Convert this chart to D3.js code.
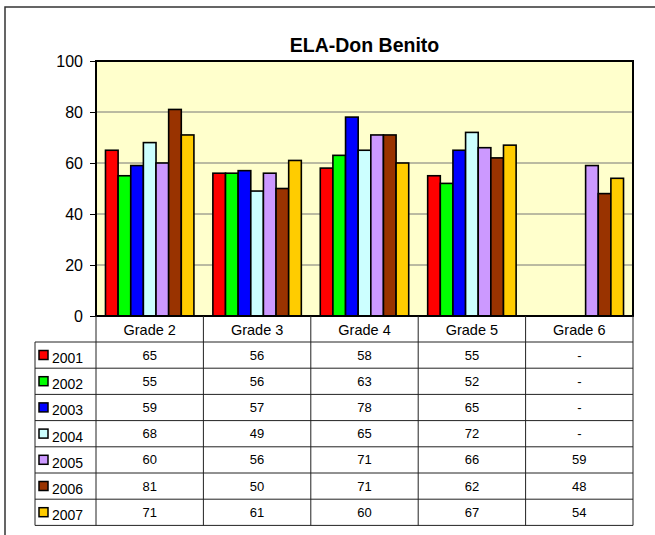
<!DOCTYPE html>
<html>
<head>
<meta charset="utf-8">
<script src="https://cdn.jsdelivr.net/npm/d3@7"></script>
<style>
  body { margin: 0; background: #fff; }
  svg { display: block; font-family: Arial, "Liberation Sans", sans-serif; }
</style>
</head>
<body>
<div id="chart"></div>
<script>
// Chart data
const grades = ['Grade 2', 'Grade 3', 'Grade 4', 'Grade 5', 'Grade 6'];
const years = ['2001', '2002', '2003', '2004', '2005', '2006', '2007'];
const yearColors = ['#ff0000', '#00ff00', '#0000ff', '#ccffff', '#cc99ff', '#993300', '#ffcc00'];
const yTicks = [0, 20, 40, 60, 80, 100];

// one array per year, values per grade (null = no data, shown as "-")
const s2001 = [65, 56, 58, 55, null];
const s2002 = [55, 56, 63, 52, null];
const s2003 = [59, 57, 78, 65, null];
const s2004 = [68, 49, 65, 72, null];
const s2005 = [60, 56, 71, 66, 59];
const s2006 = [81, 50, 71, 62, 48];
const s2007 = [71, 61, 60, 67, 54];
const series = [s2001, s2002, s2003, s2004, s2005, s2006, s2007];

const width = 655;
const height = 535;
const plot = { left: 96, right: 633, top: 61, bottom: 316 };
const tableLeft = 35;
const headerH = 26;
const rowH = 26.2;

const svg = d3.select('#chart')
  .append('svg')
  .attr('width', width)
  .attr('height', height);

// outer frame (runs off the right and bottom like the reference)
svg.append('path')
  .attr('d', `M5,${height + 2} V7 H${width + 2}`)
  .attr('fill', 'none')
  .attr('stroke', '#333')
  .attr('stroke-width', 1.5);

// title
svg.append('text')
  .attr('x', (plot.left + plot.right) / 2)
  .attr('y', 52)
  .attr('text-anchor', 'middle')
  .attr('font-size', 19.5)
  .attr('font-weight', 'bold')
  .text('ELA-Don Benito');

// scales
const x0 = d3.scaleBand()
  .domain(grades)
  .range([plot.left, plot.right]);

const x1 = d3.scaleBand()
  .domain(years)
  .range([0, x0.bandwidth()])
  .paddingInner(0)
  .paddingOuter(0.75);

const y = d3.scaleLinear()
  .domain([0, 100])
  .range([plot.bottom, plot.top]);

const color = d3.scaleOrdinal().domain(years).range(yearColors);

// plot background
svg.append('rect')
  .attr('x', plot.left)
  .attr('y', plot.top)
  .attr('width', plot.right - plot.left)
  .attr('height', plot.bottom - plot.top)
  .attr('fill', '#ffffcc');

// gridlines
svg.append('g')
  .selectAll('line')
  .data(yTicks.filter(d => d > 0 && d < 100))
  .join('line')
  .attr('x1', plot.left)
  .attr('x2', plot.right)
  .attr('y1', d => y(d))
  .attr('y2', d => y(d))
  .attr('stroke', '#777')
  .attr('stroke-width', 1);

// y axis
const yAxis = svg.append('g')
  .attr('transform', `translate(${plot.left},0)`)
  .call(d3.axisLeft(y).tickValues(yTicks).tickSize(6).tickPadding(7));
yAxis.select('.domain').remove();
yAxis.selectAll('.tick line').attr('stroke', '#000');
yAxis.selectAll('.tick text')
  .attr('font-size', 16)
  .attr('font-family', 'Arial, "Liberation Sans", sans-serif')
  .attr('fill', '#000');

// bars
const rows = years.map((yr, i) => ({ year: yr, values: series[i] }));

svg.append('g')
  .selectAll('g')
  .data(rows)
  .join('g')
  .attr('fill', d => color(d.year))
  .selectAll('rect')
  .data(d => d.values.map((v, j) => ({ year: d.year, grade: grades[j], value: v })).filter(d => d.value !== null))
  .join('rect')
  .attr('x', d => x0(d.grade) + x1(d.year))
  .attr('y', d => y(d.value))
  .attr('width', x1.bandwidth())
  .attr('height', d => y(0) - y(d.value))
  .attr('stroke', '#000')
  .attr('stroke-width', 1.6);

// plot border
svg.append('rect')
  .attr('x', plot.left)
  .attr('y', plot.top)
  .attr('width', plot.right - plot.left)
  .attr('height', plot.bottom - plot.top)
  .attr('fill', 'none')
  .attr('stroke', '#000')
  .attr('stroke-width', 2);

// data table
const table = svg.append('g').attr('class', 'data-table');
const tableTop = plot.bottom;
const tableBottom = tableTop + headerH + rowH * years.length;

// header row: grade names
table.selectAll('.hdr')
  .data(grades)
  .join('text')
  .attr('class', 'hdr')
  .attr('x', d => x0(d) + x0.bandwidth() / 2)
  .attr('y', tableTop + headerH / 2 + 6)
  .attr('text-anchor', 'middle')
  .attr('font-size', 14.5)
  .text(d => d);

// horizontal lines
const hLines = d3.range(years.length + 1).map(i => tableTop + headerH + i * rowH);
table.selectAll('.hline')
  .data(hLines)
  .join('line')
  .attr('class', 'hline')
  .attr('x1', tableLeft)
  .attr('x2', plot.right)
  .attr('y1', d => d)
  .attr('y2', d => d)
  .attr('stroke', '#222')
  .attr('stroke-width', 1);

// vertical lines
table.append('line')
  .attr('x1', tableLeft).attr('x2', tableLeft)
  .attr('y1', tableTop + headerH).attr('y2', tableBottom)
  .attr('stroke', '#222');
table.selectAll('.vline')
  .data(grades.map(g => x0(g)).concat([plot.right]))
  .join('line')
  .attr('class', 'vline')
  .attr('x1', d => d)
  .attr('x2', d => d)
  .attr('y1', tableTop)
  .attr('y2', tableBottom)
  .attr('stroke', '#222')
  .attr('stroke-width', 1);

// legend column + values
const row = table.selectAll('.row')
  .data(rows)
  .join('g')
  .attr('class', 'row')
  .attr('transform', (d, i) => `translate(0,${tableTop + headerH + i * rowH})`);

row.append('rect')
  .attr('x', tableLeft + 4)
  .attr('y', 8.5)
  .attr('width', 9)
  .attr('height', 9)
  .attr('fill', d => color(d.year))
  .attr('stroke', '#000')
  .attr('stroke-width', 1.5);

row.append('text')
  .attr('x', tableLeft + 17)
  .attr('y', 21)
  .attr('font-size', 14)
  .text(d => d.year);

row.selectAll('.val')
  .data(d => d.values.map((v, j) => ({ grade: grades[j], value: v })))
  .join('text')
  .attr('class', 'val')
  .attr('x', d => x0(d.grade) + x0.bandwidth() / 2)
  .attr('y', 17.5)
  .attr('text-anchor', 'middle')
  .attr('font-size', 13)
  .text(d => d.value === null ? '-' : d.value);
</script>
</body>
</html>
